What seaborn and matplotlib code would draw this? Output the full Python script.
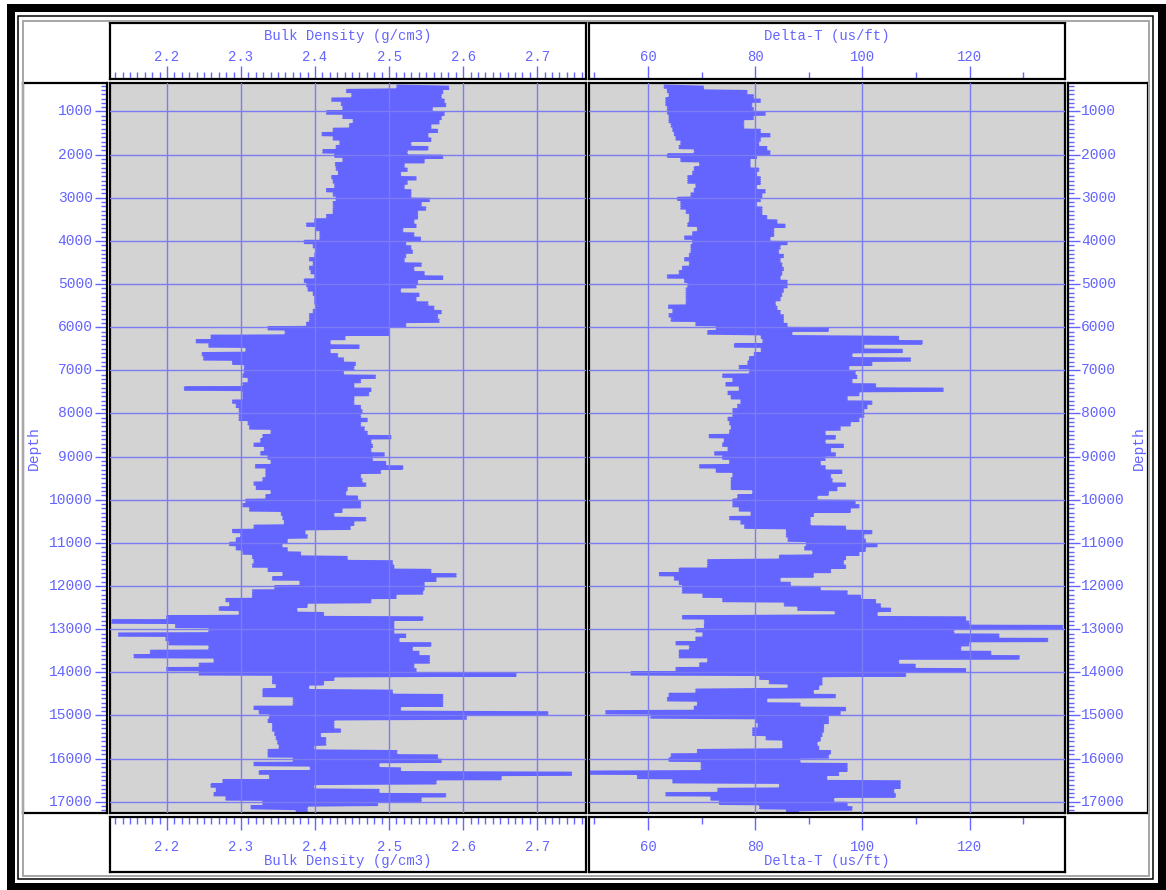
import numpy as np
import pandas as pd
import matplotlib
matplotlib.use("Agg")
from matplotlib import pyplot as plt
from matplotlib.patches import Rectangle
import seaborn as sns

# depth samples every 100 ft, with the low/high swing of each curve
depth = np.arange(400, 17201, 100)

rhob_lo = [2.511, 2.443, 2.450, 2.423, 2.436, 2.438,
           2.416, 2.438, 2.452, 2.447, 2.425, 2.410, 2.425, 2.434, 2.429, 2.411,
           2.427, 2.438, 2.428, 2.429, 2.432, 2.423, 2.425, 2.427, 2.416, 2.425,
           2.429, 2.425, 2.425, 2.425, 2.416, 2.400, 2.389, 2.402, 2.407, 2.407,
           2.386, 2.398, 2.402, 2.400, 2.393, 2.398, 2.393, 2.395, 2.400, 2.386,
           2.389, 2.391, 2.398, 2.400, 2.400, 2.402, 2.398, 2.393, 2.393, 2.389,
           2.337, 2.360, 2.260, 2.240, 2.257, 2.307, 2.248, 2.250, 2.289, 2.305,
           2.305, 2.303, 2.310, 2.303, 2.224, 2.303, 2.303, 2.289, 2.294, 2.298,
           2.298, 2.298, 2.310, 2.312, 2.341, 2.330, 2.327, 2.318, 2.332, 2.327,
           2.337, 2.341, 2.320, 2.334, 2.334, 2.330, 2.318, 2.321, 2.341, 2.334,
           2.307, 2.303, 2.312, 2.355, 2.357, 2.359, 2.318, 2.289, 2.300, 2.294,
           2.285, 2.294, 2.303, 2.316, 2.318, 2.316, 2.337, 2.357, 2.343, 2.380,
           2.346, 2.316, 2.316, 2.280, 2.285, 2.271, 2.298, 2.200, 2.126, 2.212,
           2.257, 2.135, 2.199, 2.203, 2.257, 2.178, 2.156, 2.264, 2.244, 2.200,
           2.244, 2.343, 2.343, 2.348, 2.330, 2.330, 2.371, 2.371, 2.318, 2.325,
           2.339, 2.337, 2.343, 2.343, 2.346, 2.348, 2.350, 2.352, 2.337, 2.337,
           2.371, 2.318, 2.394, 2.325, 2.339, 2.276, 2.260, 2.267, 2.264, 2.280,
           2.330, 2.314, 2.375]

rhob_hi = [2.580, 2.572, 2.570, 2.574, 2.576, 2.558,
           2.574, 2.570, 2.567, 2.556, 2.565, 2.552, 2.556, 2.529, 2.552, 2.524,
           2.572, 2.547, 2.520, 2.524, 2.515, 2.536, 2.524, 2.520, 2.529, 2.529,
           2.554, 2.543, 2.549, 2.538, 2.538, 2.533, 2.536, 2.518, 2.533, 2.542,
           2.522, 2.529, 2.531, 2.522, 2.520, 2.543, 2.533, 2.547, 2.572, 2.538,
           2.536, 2.515, 2.540, 2.536, 2.552, 2.560, 2.570, 2.565, 2.567, 2.522,
           2.500, 2.500, 2.440, 2.420, 2.459, 2.420, 2.430, 2.438, 2.454, 2.452,
           2.438, 2.481, 2.461, 2.452, 2.475, 2.472, 2.452, 2.452, 2.461, 2.463,
           2.461, 2.470, 2.461, 2.466, 2.470, 2.502, 2.475, 2.477, 2.475, 2.493,
           2.477, 2.495, 2.518, 2.488, 2.461, 2.463, 2.468, 2.443, 2.441, 2.457,
           2.461, 2.461, 2.436, 2.425, 2.468, 2.452, 2.447, 2.386, 2.389, 2.362,
           2.355, 2.362, 2.380, 2.443, 2.504, 2.506, 2.556, 2.590, 2.563, 2.547,
           2.547, 2.545, 2.509, 2.475, 2.389, 2.375, 2.411, 2.545, 2.506, 2.506,
           2.506, 2.522, 2.513, 2.556, 2.531, 2.540, 2.554, 2.554, 2.533, 2.536,
           2.671, 2.425, 2.411, 2.391, 2.504, 2.572, 2.572, 2.572, 2.515, 2.714,
           2.604, 2.425, 2.425, 2.434, 2.407, 2.414, 2.414, 2.398, 2.510, 2.565,
           2.570, 2.486, 2.515, 2.746, 2.651, 2.563, 2.398, 2.486, 2.576, 2.543,
           2.484, 2.389, 2.389]

dt_lo = [63.1, 63.7, 64.0, 63.4, 63.4, 63.7,
         63.7, 64.0, 64.0, 64.4, 64.7, 65.0, 65.3, 66.2, 65.9, 68.7,
         63.7, 66.2, 69.7, 68.7, 68.4, 67.5, 67.5, 69.0, 68.7, 68.1,
         65.6, 66.2, 66.2, 67.2, 67.8, 67.8, 67.5, 69.3, 68.4, 66.9,
         68.4, 68.1, 68.1, 67.8, 66.9, 67.8, 66.5, 65.9, 63.7, 66.9,
         67.5, 67.2, 67.2, 67.2, 67.2, 63.9, 64.7, 64.0, 64.4, 69.0,
         72.8, 71.2, 81.2, 81.5, 76.2, 81.2, 79.9, 79.0, 78.7, 77.1,
         79.0, 74.0, 75.9, 74.6, 77.1, 75.0, 75.6, 77.4, 76.8, 75.9,
         75.9, 75.0, 75.3, 75.6, 75.3, 71.5, 74.3, 74.0, 75.0, 72.5,
         74.0, 75.3, 69.7, 72.8, 75.9, 75.6, 75.6, 75.6, 79.6, 76.8,
         75.9, 75.9, 77.1, 79.3, 75.3, 77.4, 78.1, 85.9, 85.9, 86.2,
         89.6, 89.3, 90.8, 84.6, 71.2, 71.2, 65.9, 62.2, 65.0, 65.9,
         66.5, 66.5, 70.3, 74.0, 85.5, 88.0, 95.0, 66.5, 70.6, 70.6,
         69.0, 70.3, 69.0, 65.3, 67.8, 65.9, 65.9, 71.2, 69.7, 65.3,
         56.9, 80.9, 82.7, 86.2, 69.0, 64.0, 63.7, 69.3, 68.7, 52.2,
         60.6, 80.2, 80.6, 79.6, 79.6, 82.1, 85.2, 85.2, 69.3, 64.4,
         64.0, 70.0, 70.0, 49.3, 58.1, 64.7, 84.6, 73.1, 63.4, 71.8,
         73.4, 80.9, 85.9]

dt_hi = [70.3, 78.4, 79.6, 80.9, 79.3, 79.6,
         81.8, 79.6, 77.8, 77.8, 80.9, 82.7, 80.9, 80.6, 82.1, 82.7,
         80.2, 79.0, 79.0, 80.6, 80.2, 80.9, 80.9, 80.2, 81.8, 81.2,
         80.9, 80.2, 81.2, 81.2, 82.1, 84.0, 85.5, 83.4, 83.4, 82.7,
         85.9, 84.6, 84.3, 85.2, 84.6, 84.9, 85.2, 84.9, 84.6, 85.9,
         85.9, 85.2, 84.9, 84.6, 83.7, 84.0, 84.6, 85.2, 85.2, 85.9,
         93.6, 86.8, 106.7, 111.1, 100.2, 107.4, 98.0, 108.9, 101.7, 97.4,
         98.6, 98.9, 98.0, 102.4, 115.0, 99.3, 97.1, 101.7, 100.8, 100.2,
         100.2, 99.3, 97.7, 95.8, 93.0, 94.9, 93.0, 96.4, 94.0, 94.9,
         93.0, 92.1, 93.0, 96.1, 94.0, 94.3, 96.8, 95.2, 93.6, 91.5,
         98.6, 99.3, 97.7, 90.8, 90.2, 90.2, 96.8, 101.7, 100.2, 100.5,
         102.7, 100.5, 99.3, 96.8, 96.4, 96.8, 94.0, 90.8, 84.6, 86.5,
         92.1, 97.1, 99.6, 102.4, 103.3, 105.2, 102.7, 119.2, 119.8, 137.3,
         117.0, 125.4, 134.5, 119.8, 118.3, 123.9, 129.2, 106.7, 109.8, 119.2,
         108.0, 92.4, 92.4, 91.8, 90.8, 94.9, 82.1, 88.3, 96.8, 95.8,
         93.6, 93.6, 92.7, 92.7, 92.4, 92.1, 91.5, 91.8, 94.0, 93.6,
         88.3, 97.1, 97.1, 95.5, 93.3, 107.0, 107.0, 105.8, 106.1, 94.6,
         97.1, 98.0, 88.0]

rhob_ticks = [2.2, 2.3, 2.4, 2.5, 2.6, 2.7]
rhob_minor = np.round(np.arange(2.13, 2.765, 0.01), 2)
dt_ticks = [60, 80, 100, 120]
dt_minor = [50, 70, 90, 110, 130]
depth_ticks = list(range(1000, 17001, 1000))
depth_minor = list(range(400, 17201, 100))

RHOB_LIM = (2.123, 2.766)
DT_LIM = (49.0, 137.8)
DEPTH_LIM = (17260, 340)

BLUE = '#6464ff'
GRID = '#7c7cf2'
TRACK_BG = '#d3d3d3'

sns.set_theme(style='white')
plt.rcParams['font.family'] = ['Liberation Mono', 'DejaVu Sans Mono']

W, H = 1166, 890
fig = plt.figure(figsize=(W / 100, H / 100), dpi=100)
fig.patch.set_facecolor('white')


def frame(x0, y0, x1, y1, px, color):
    fig.add_artist(Rectangle((x0 / W, 1 - y1 / H), (x1 - x0) / W, (y1 - y0) / H,
                             transform=fig.transFigure, fill=False,
                             edgecolor=color, linewidth=px * 0.72))


frame(10.5, 7.5, 1162, 887, 8, 'black')
frame(17.5, 15.5, 1152.5, 879, 1.5, 'black')
frame(22.5, 20.5, 1148.5, 875.5, 2, '#a8a8a8')


def box(x0, y0, x1, y1):
    ax = fig.add_axes([x0 / W, 1 - y1 / H, (x1 - x0) / W, (y1 - y0) / H])
    ax.set_facecolor('white')
    for s in ax.spines.values():
        s.set_color('black')
        s.set_linewidth(1.6)
    return ax


def zigzag(lo, hi):
    # swing between the low and high reading twice per 100 ft sample
    xs, ys = [], []
    for d, a, b in zip(depth, lo, hi):
        xs += [a, b, a, b]
        ys += [d, d + 25, d + 50, d + 75]
    return pd.DataFrame({'value': xs, 'depth': ys})


def track(x0, x1, xlim, grid_x, lo, hi):
    ax = box(x0, 83, x1, 813)
    ax.set_facecolor(TRACK_BG)
    sns.lineplot(data=zigzag(lo, hi), x='value', y='depth', sort=False,
                 estimator=None, orient='y', color=BLUE, lw=1.5, ax=ax)
    ax.set_xlim(xlim)
    ax.set_ylim(DEPTH_LIM)
    ax.set_xticks(grid_x)
    ax.set_yticks(depth_ticks)
    ax.tick_params(length=0, labelbottom=False, labelleft=False)
    ax.grid(True, color=GRID, lw=1.0)
    ax.set_axisbelow(False)
    ax.set_xlabel('')
    ax.set_ylabel('')


def scale_box(x0, x1, y0, y1, xlim, major, minor, title, top, fmt):
    ax = box(x0, y0, x1, y1)
    ax.set_xlim(xlim)
    ax.set_ylim(0, 1)
    ax.set_yticks([])
    ax.set_xticks(major)
    ax.set_xticks(minor, minor=True)
    ax.xaxis.set_ticks_position('bottom' if top else 'top')
    ax.tick_params(axis='x', which='both', direction='in', color=BLUE, width=1,
                   labelbottom=False, labeltop=False)
    ax.tick_params(axis='x', which='major', length=9.4)
    ax.tick_params(axis='x', which='minor', length=4.8)
    label_y, title_y = (0.39, 0.77) if top else (0.455, 0.20)
    for v in major:
        ax.text(v, label_y, fmt.format(v), transform=ax.get_xaxis_transform(),
                ha='center', va='center', color=BLUE, fontsize=10)
    ax.text(0.5, title_y, title, transform=ax.transAxes, ha='center',
            va='center', color=BLUE, fontsize=10)


def depth_box(x0, x1, left):
    ax = box(x0, 83, x1, 813)
    ax.set_ylim(DEPTH_LIM)
    ax.set_xlim(0, 1)
    ax.set_xticks([])
    ax.set_yticks(depth_ticks)
    ax.set_yticks(depth_minor, minor=True)
    ax.yaxis.set_ticks_position('right' if left else 'left')
    ax.tick_params(axis='y', which='both', direction='in', color=BLUE, width=1,
                   labelleft=False, labelright=False)
    ax.tick_params(axis='y', which='major', length=8.5)
    ax.tick_params(axis='y', which='minor', length=4.0)
    lx, ha = (0.83, 'right') if left else (0.165, 'left')
    for d in depth_ticks:
        ax.text(lx, d, str(d), transform=ax.get_yaxis_transform(), ha=ha,
                va='center', color=BLUE, fontsize=10.5)
    ax.text(0.13 if left else 0.88, 0.5, 'Depth', rotation=90,
            transform=ax.transAxes, ha='center', va='center', color=BLUE,
            fontsize=10.5)


# density track
scale_box(110, 586, 23, 79, RHOB_LIM, rhob_ticks, rhob_minor,
          'Bulk Density (g/cm3)', True, '{:.1f}')
track(110, 586, RHOB_LIM, rhob_ticks, rhob_lo, rhob_hi)
scale_box(110, 586, 817, 872, RHOB_LIM, rhob_ticks, rhob_minor,
          'Bulk Density (g/cm3)', False, '{:.1f}')

# sonic track
scale_box(589, 1065, 23, 79, DT_LIM, dt_ticks, dt_minor,
          'Delta-T (us/ft)', True, '{:d}')
track(589, 1065, DT_LIM, dt_ticks, dt_lo, dt_hi)
scale_box(589, 1065, 817, 872, DT_LIM, dt_ticks, dt_minor,
          'Delta-T (us/ft)', False, '{:d}')

depth_box(23, 107, True)
depth_box(1068, 1148, False)

fig.savefig('out.png', dpi=100, facecolor='white')
